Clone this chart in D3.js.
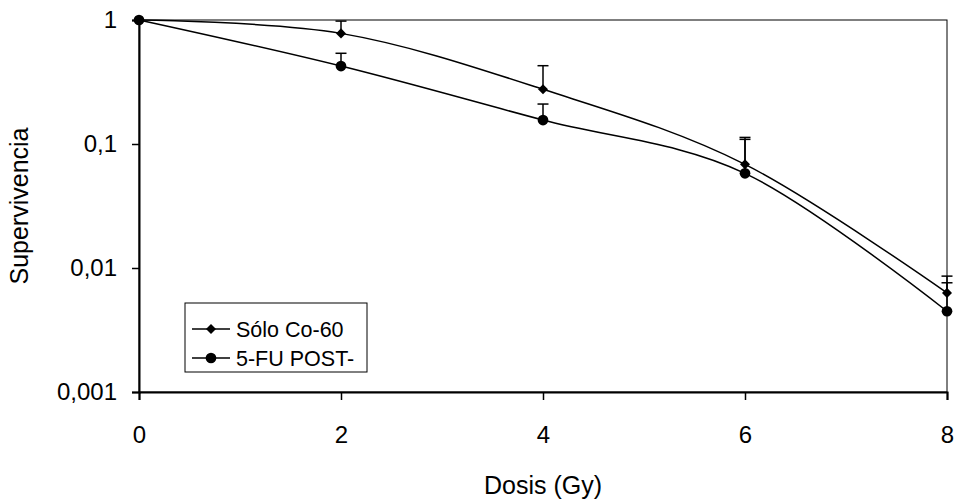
<!DOCTYPE html>
<html>
<head>
<meta charset="utf-8">
<script src="https://cdn.jsdelivr.net/npm/d3@7"></script>
<style>
  html, body { margin: 0; padding: 0; background: #fff; }
  svg { display: block; font-family: "Liberation Sans", Arial, sans-serif; }
</style>
</head>
<body>
<svg id="chart" width="958" height="501"></svg>
<script>
// Survival fraction vs. dose (Gy)
const doses = [0, 2, 4, 6, 8];
const soloCo60 = [1, 0.78, 0.276, 0.0685, 0.0063];
const soloCo60Upper = [null, 0.98, 0.428, 0.113, 0.0086];
const fuPost = [1, 0.425, 0.156, 0.058, 0.00448];
const fuPostUpper = [null, 0.539, 0.21, 0.109, 0.0076];
const xTicks = [0, 2, 4, 6, 8];
const yTicks = [0.001, 0.01, 0.1, 1];
const yTickLabels = ["0,001", "0,01", "0,1", "1"];
const seriesNames = ["Sólo Co-60", "5-FU POST-"];

const svg = d3.select("#chart");
const plotL = 139, plotR = 947, plotT = 20, plotB = 392;
const font = "Liberation Sans, Arial, sans-serif";

const x = d3.scaleLinear().domain([0, 8]).range([plotL, plotR]);
const y = d3.scaleLog().domain([0.001, 1]).range([plotB, plotT]);

// plot frame
svg.append("rect")
  .attr("x", plotL).attr("y", plotT)
  .attr("width", plotR - plotL).attr("height", plotB - plotT)
  .attr("fill", "none").attr("stroke", "#000").attr("stroke-width", 1);

// axes
const xAxis = d3.axisBottom(x).tickValues(xTicks).tickSize(8).tickPadding(26)
  .tickFormat(d => String(d));
const gx = svg.append("g").attr("transform", `translate(0,${plotB})`).call(xAxis);
gx.select(".domain").attr("stroke-width", 2);
gx.selectAll(".tick line").attr("stroke-width", 1.5);
gx.selectAll("text").attr("font-size", 24).attr("fill", "#000").attr("font-family", font);

const yAxis = d3.axisLeft(y).tickValues(yTicks).tickSize(7).tickPadding(15)
  .tickFormat(d => yTickLabels[yTicks.indexOf(d)]);
const gy = svg.append("g").attr("transform", `translate(${plotL},0)`).call(yAxis);
gy.select(".domain").attr("stroke-width", 2);
gy.selectAll(".tick line").attr("stroke-width", 1.5);
gy.selectAll("text").attr("font-size", 24).attr("fill", "#000").attr("font-family", font);

// axis titles
svg.append("text")
  .attr("x", (plotL + plotR) / 2).attr("y", 494)
  .attr("text-anchor", "middle").attr("font-size", 25)
  .text("Dosis (Gy)");
svg.append("text")
  .attr("transform", `translate(28,${(plotT + plotB) / 2}) rotate(-90)`)
  .attr("text-anchor", "middle").attr("font-size", 25)
  .text("Supervivencia");

const line = d3.line()
  .x((d, i) => x(doses[i]))
  .y(d => y(d))
  .curve(d3.curveCatmullRom.alpha(0));

function drawSeries(values, upper, marker) {
  const g = svg.append("g");
  // upward error bars
  doses.forEach((dose, i) => {
    if (upper[i] == null) return;
    g.append("line")
      .attr("x1", x(dose)).attr("x2", x(dose))
      .attr("y1", y(values[i])).attr("y2", y(upper[i]))
      .attr("stroke", "#000").attr("stroke-width", 1.5);
    g.append("line")
      .attr("x1", x(dose) - 5.5).attr("x2", x(dose) + 5.5)
      .attr("y1", y(upper[i])).attr("y2", y(upper[i]))
      .attr("stroke", "#000").attr("stroke-width", 1.5);
  });
  g.append("path")
    .attr("d", line(values))
    .attr("fill", "none").attr("stroke", "#000").attr("stroke-width", 1.5);
  g.selectAll("path.m")
    .data(values)
    .join("path")
    .attr("class", "m")
    .attr("transform", (d, i) => `translate(${x(doses[i])},${y(d)})`)
    .attr("d", marker)
    .attr("fill", "#000");
}

const diamond = d3.symbol().type(d3.symbolDiamond2).size(64)();
const circle = d3.symbol().type(d3.symbolCircle).size(90)();

drawSeries(soloCo60, soloCo60Upper, diamond);
drawSeries(fuPost, fuPostUpper, circle);

// legend
const lg = svg.append("g");
lg.append("rect")
  .attr("x", 185).attr("y", 303).attr("width", 182).attr("height", 69)
  .attr("fill", "#fff").attr("stroke", "#000").attr("stroke-width", 1);
[diamond, circle].forEach((m, i) => {
  const cy = 329 + i * 29;
  lg.append("line").attr("x1", 192).attr("x2", 230).attr("y1", cy).attr("y2", cy)
    .attr("stroke", "#000").attr("stroke-width", 1.5);
  lg.append("path").attr("d", m).attr("transform", `translate(211,${cy})`).attr("fill", "#000");
  lg.append("text").attr("x", 236).attr("y", cy + 7.5)
    .attr("font-size", 21.5).text(seriesNames[i]);
});
</script>
</body>
</html>
